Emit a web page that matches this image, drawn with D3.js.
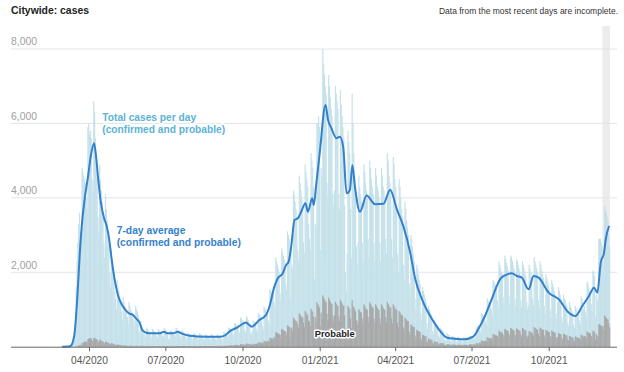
<!DOCTYPE html>
<html>
<head>
<meta charset="utf-8">
<script src="https://cdn.jsdelivr.net/npm/d3@7"></script>
<style>
  body { margin: 0; background: #fff; }
  svg { display: block; font-family: "Liberation Sans", Arial, sans-serif; }
</style>
</head>
<body>
<div id="chart"></div>
<script>
// first day of the daily series, one value per day from here on
const startDate = '2020-02-29';
const incompleteFrom = '2021-12-04';

// total cases per day (confirmed and probable), one row per week starting on a Saturday
const dailyTotal = [
  1, 0, 1, 2, 4, 6, 12,
  15, 12, 30, 60, 100, 140, 250,
  500, 600, 1600, 2300, 2800, 3300, 3600,
  3100, 2900, 4800, 4700, 4600, 4500, 4400,
  4000, 3700, 5900, 6000, 5700, 5800, 5600,
  4500, 4200, 6600, 6300, 5600, 4900, 4500,
  3500, 3100, 4900, 4500, 4200, 3900, 3600,
  2800, 2400, 4100, 3700, 3400, 3000, 2700,
  2000, 1600, 2600, 2200, 1900, 1700, 1500,
  1300, 1000, 1800, 1600, 1500, 1350, 1250,
  950, 700, 1350, 1200, 1100, 1000, 950,
  800, 600, 1200, 1100, 1000, 950, 900,
  750, 550, 700, 1100, 1000, 950, 850,
  450, 350, 700, 600, 520, 480, 430,
  320, 260, 520, 480, 430, 400, 370,
  300, 230, 480, 450, 420, 390, 360,
  290, 230, 470, 440, 410, 380, 350,
  300, 250, 500, 470, 450, 420, 380,
  220, 200, 420, 440, 430, 400, 380,
  320, 270, 520, 500, 460, 420, 390,
  280, 230, 450, 420, 390, 360, 340,
  240, 200, 380, 360, 340, 320, 300,
  230, 190, 370, 350, 330, 310, 290,
  220, 180, 360, 340, 320, 300, 280,
  210, 170, 340, 320, 300, 290, 270,
  200, 170, 340, 320, 300, 290, 270,
  200, 160, 330, 320, 300, 280, 260,
  210, 170, 220, 400, 380, 360, 350,
  290, 250, 520, 500, 480, 460, 440,
  350, 300, 640, 620, 590, 560, 530,
  420, 360, 780, 760, 720, 680, 640,
  450, 380, 820, 780, 720, 650, 600,
  380, 320, 420, 700, 680, 650, 620,
  480, 400, 900, 880, 840, 800, 760,
  560, 480, 1080, 1050, 1000, 950, 900,
  700, 600, 1550, 1500, 1450, 1500, 1450,
  1200, 1050, 2400, 2300, 2200, 2100, 2000,
  1450, 1250, 2650, 2550, 2450, 2350, 2250,
  1700, 1500, 3100, 3000, 2900, 1300, 2600,
  2200, 2100, 4200, 4100, 3900, 3700, 3500,
  2600, 2300, 4600, 4400, 4200, 4000, 3800,
  2800, 2500, 4900, 4700, 4500, 4300, 3300,
  2900, 2600, 5200, 5000, 4800, 4300, 1800,
  3300, 3200, 6000, 6000, 6200, 5900, 2600,
  4800, 4600, 8000, 7600, 7300, 7000, 6800,
  4400, 4000, 7300, 7000, 6700, 6400, 6200,
  4100, 3800, 4200, 7000, 6800, 6600, 6400,
  4100, 3700, 6900, 6500, 6200, 5900, 5600,
  3800, 2000, 1500, 2500, 5800, 5500, 5200,
  3700, 2400, 6800, 6000, 5200, 4600, 4300,
  2700, 2200, 2800, 4600, 4300, 4100, 3900,
  2800, 2300, 4900, 4700, 4400, 4200, 4000,
  2900, 2400, 5000, 4800, 4500, 4300, 4100,
  2800, 2300, 4800, 4600, 4300, 4200, 4000,
  2800, 2300, 4800, 4600, 4300, 4200, 4000,
  2900, 2500, 5200, 5000, 4600, 4400, 4200,
  2900, 2400, 5100, 4900, 4500, 4300, 3800,
  2500, 2000, 4500, 4300, 4000, 3700, 3500,
  2200, 1800, 3900, 3700, 3400, 3200, 3000,
  1700, 1400, 3000, 2900, 2700, 2500, 2300,
  1300, 1000, 2200, 2100, 1950, 1800, 1700,
  900, 700, 1600, 1500, 1400, 1300, 1200,
  620, 480, 1100, 1000, 950, 880, 820,
  420, 320, 720, 680, 640, 600, 560,
  300, 230, 520, 490, 460, 430, 400,
  200, 160, 180, 360, 340, 320, 300,
  160, 130, 290, 280, 260, 250, 230,
  150, 120, 270, 260, 240, 230, 220,
  150, 120, 260, 250, 240, 230, 220,
  170, 140, 300, 290, 280, 270, 260,
  230, 200, 250, 520, 540, 560, 580,
  450, 400, 900, 880, 850, 820, 800,
  700, 600, 1300, 1250, 1200, 1150, 1100,
  1000, 850, 1800, 1750, 1700, 1650, 1600,
  1250, 1050, 2300, 2200, 2100, 2000, 1950,
  1350, 1150, 2450, 2350, 2250, 2150, 2050,
  1350, 1150, 2450, 2400, 2300, 2200, 2100,
  1300, 1100, 2350, 2300, 2200, 2100, 2000,
  1250, 1050, 2300, 2200, 2100, 2000, 1900,
  1200, 1000, 1100, 2200, 2100, 2000, 1900,
  1300, 1100, 2400, 2300, 2200, 2100, 2000,
  1250, 1050, 2300, 2200, 2050, 1950, 1850,
  1100, 900, 1950, 1850, 1750, 1650, 1550,
  1000, 800, 1800, 1700, 1600, 1500, 1400,
  900, 750, 1200, 1600, 1500, 1400, 1300,
  780, 650, 1400, 1300, 1250, 1150, 1100,
  650, 550, 1200, 1100, 1050, 950, 900,
  600, 500, 1100, 1050, 950, 900, 850,
  700, 600, 1350, 1300, 1200, 1000, 1100,
  950, 800, 1750, 1700, 1600, 1500, 1450,
  1150, 950, 2050, 2000, 1900, 800, 1400,
  1300, 1200, 2900, 2900, 2900, 2800, 2700,
  2300, 2000, 3800, 3700, 3600, 3500, 3400,
  3000, 2700
];

// probable cases per day, same days as dailyTotal
const dailyProbable = [
  0, 0, 0, 0, 0, 0, 0,
  0, 0, 0, 0, 0, 1, 1,
  2, 3, 8, 12, 20, 30, 40,
  40, 40, 90, 110, 120, 130, 140,
  130, 120, 200, 220, 220, 230, 220,
  170, 150, 240, 230, 220, 200, 190,
  140, 120, 190, 170, 160, 150, 140,
  100, 90, 140, 130, 120, 110, 100,
  70, 60, 100, 90, 80, 70, 60,
  45, 35, 60, 55, 50, 45, 40,
  30, 25, 40, 35, 35, 30, 30,
  16, 13, 24, 23, 22, 21, 21,
  16, 13, 15, 23, 22, 21, 21,
  15, 12, 22, 21, 20, 19, 19,
  14, 12, 21, 20, 19, 18, 18,
  14, 11, 20, 20, 19, 18, 18,
  13, 11, 20, 19, 18, 18, 17,
  14, 12, 21, 20, 19, 18, 18,
  10, 10, 18, 20, 19, 18, 18,
  14, 12, 22, 21, 20, 19, 18,
  14, 12, 21, 20, 19, 18, 18,
  13, 11, 20, 19, 18, 17, 17,
  13, 11, 20, 19, 18, 17, 17,
  13, 11, 20, 19, 18, 18, 17,
  14, 12, 21, 20, 19, 18, 18,
  14, 12, 22, 21, 20, 19, 19,
  15, 13, 23, 22, 21, 20, 20,
  17, 14, 16, 26, 25, 24, 24,
  24, 20, 36, 35, 33, 32, 32,
  32, 26, 48, 46, 44, 42, 42,
  44, 36, 66, 63, 61, 58, 58,
  56, 46, 84, 81, 77, 74, 74,
  56, 46, 60, 81, 77, 74, 74,
  80, 65, 120, 115, 110, 105, 105,
  104, 85, 156, 150, 143, 137, 137,
  160, 130, 240, 230, 220, 210, 210,
  264, 215, 396, 380, 363, 347, 347,
  320, 260, 480, 460, 440, 420, 420,
  384, 312, 576, 552, 528, 250, 504,
  520, 423, 780, 748, 715, 683, 683,
  600, 488, 900, 863, 825, 788, 788,
  640, 520, 960, 920, 880, 840, 700,
  680, 553, 1020, 978, 935, 800, 450,
  800, 650, 1200, 1150, 1100, 1050, 550,
  920, 748, 1380, 1323, 1265, 1208, 1208,
  880, 715, 1320, 1265, 1210, 1155, 1155,
  840, 683, 840, 1208, 1155, 1103, 1103,
  840, 683, 1260, 1208, 1155, 1103, 1103,
  840, 400, 300, 500, 1100, 1050, 1000,
  760, 500, 1250, 1100, 1050, 1000, 950,
  704, 572, 700, 1012, 968, 924, 924,
  760, 618, 1140, 1093, 1045, 998, 998,
  800, 650, 1200, 1150, 1100, 1050, 1050,
  760, 618, 1140, 1093, 1045, 998, 998,
  760, 618, 1140, 1093, 1045, 998, 998,
  800, 650, 1200, 1150, 1100, 1050, 1050,
  760, 618, 1140, 1093, 1045, 998, 998,
  640, 520, 960, 920, 880, 840, 840,
  520, 423, 780, 748, 715, 683, 683,
  400, 325, 600, 575, 550, 525, 525,
  304, 247, 456, 437, 418, 399, 399,
  216, 176, 324, 311, 297, 284, 284,
  144, 117, 216, 207, 198, 189, 189,
  96, 78, 144, 138, 132, 126, 126,
  68, 55, 102, 98, 94, 89, 89,
  48, 39, 45, 69, 66, 63, 63,
  40, 33, 60, 58, 55, 53, 53,
  36, 29, 54, 52, 50, 47, 47,
  36, 29, 54, 52, 50, 47, 47,
  44, 36, 66, 63, 61, 58, 58,
  64, 52, 60, 92, 88, 84, 84,
  112, 91, 168, 161, 154, 147, 147,
  168, 137, 252, 242, 231, 221, 221,
  232, 189, 348, 334, 319, 305, 305,
  288, 234, 432, 414, 396, 378, 378,
  320, 260, 480, 460, 440, 420, 420,
  336, 273, 504, 483, 462, 441, 441,
  328, 267, 492, 472, 451, 431, 431,
  336, 273, 504, 483, 462, 441, 441,
  296, 241, 300, 426, 407, 389, 389,
  352, 286, 528, 506, 484, 462, 462,
  344, 280, 516, 495, 473, 452, 452,
  304, 247, 456, 437, 418, 399, 399,
  288, 234, 432, 414, 396, 378, 378,
  256, 208, 260, 368, 352, 336, 336,
  232, 189, 348, 334, 319, 305, 305,
  192, 156, 288, 276, 264, 252, 252,
  184, 150, 276, 265, 253, 242, 242,
  216, 176, 324, 311, 297, 250, 284,
  272, 221, 408, 391, 374, 357, 357,
  288, 234, 432, 414, 396, 180, 340,
  300, 280, 600, 600, 580, 560, 540,
  560, 455, 840, 800, 770, 740, 735,
  620, 520
];

// 7-day average at its turning points
const avgDates = [
  '2020-02-29', '2020-03-08', '2020-03-11', '2020-03-13', '2020-03-15', '2020-03-18',
  '2020-03-21', '2020-03-24', '2020-03-27', '2020-03-31', '2020-04-03', '2020-04-07',
  '2020-04-09', '2020-04-12', '2020-04-15', '2020-04-19', '2020-04-22', '2020-04-25',
  '2020-04-28', '2020-05-02', '2020-05-06', '2020-05-11', '2020-05-16', '2020-05-20',
  '2020-05-23', '2020-05-27', '2020-05-31', '2020-06-04', '2020-06-12', '2020-06-24',
  '2020-06-29', '2020-07-04', '2020-07-10', '2020-07-16', '2020-07-20', '2020-07-30',
  '2020-08-19', '2020-09-04', '2020-09-11', '2020-09-15', '2020-09-25', '2020-09-29',
  '2020-10-05', '2020-10-12', '2020-10-21', '2020-10-29', '2020-11-02', '2020-11-08',
  '2020-11-12', '2020-11-18', '2020-11-22', '2020-11-25', '2020-11-28', '2020-12-02',
  '2020-12-06', '2020-12-10', '2020-12-15', '2020-12-18', '2020-12-23', '2020-12-25',
  '2020-12-28', '2021-01-01', '2021-01-08', '2021-01-11', '2021-01-15', '2021-01-21',
  '2021-01-25', '2021-01-29', '2021-02-02', '2021-02-06', '2021-02-09', '2021-02-12',
  '2021-02-18', '2021-02-26', '2021-03-08', '2021-03-18', '2021-03-26', '2021-04-03',
  '2021-04-11', '2021-04-19', '2021-04-25', '2021-05-03', '2021-05-15', '2021-05-23',
  '2021-06-02', '2021-06-11', '2021-06-23', '2021-07-03', '2021-07-09', '2021-07-17',
  '2021-07-25', '2021-08-04', '2021-08-10', '2021-08-18', '2021-08-24', '2021-08-30',
  '2021-09-07', '2021-09-13', '2021-09-19', '2021-10-01', '2021-10-13', '2021-10-25',
  '2021-11-02', '2021-11-10', '2021-11-18', '2021-11-24', '2021-11-28', '2021-12-02',
  '2021-12-06', '2021-12-08', '2021-12-12'
];
const avgValues = [
  0, 5, 40, 150, 400, 1300,
  2500, 3400, 4000, 4600, 5100, 5470,
  5200, 4500, 3900, 3450, 3250, 2900,
  2350, 1750, 1350, 1100, 950, 880,
  860, 760, 660, 430, 360, 360,
  400, 360, 360, 400, 360, 296,
  269, 265, 314, 403, 521, 583,
  650, 537, 717, 852, 1075, 1613,
  1838, 1973, 2196, 2285, 2688, 3406,
  3451, 3629, 3855, 3629, 3989, 3809,
  4392, 5198, 6497, 6094, 5871, 5602,
  5645, 5376, 4123, 4212, 4884, 4301,
  3629, 4060, 3830, 3840, 4220, 3690,
  3220, 2520, 1811, 1274, 737, 468,
  242, 215, 199, 269, 468, 825,
  1274, 1811, 1919, 1973, 1900, 1855,
  1543, 1900, 1855, 1452, 1274, 914,
  825, 1094, 1363, 1586, 1452, 2258,
  2527, 2887, 3244
];

const yTicks = [2000, 4000, 6000, 8000];
const xTicks = ['2020-04-01', '2020-07-01', '2020-10-01', '2021-01-01', '2021-04-01', '2021-07-01', '2021-10-01'];

const width = 624;
const height = 372;
const left = 11;
const right = 617;

const parse = d3.utcParse('%Y-%m-%d');
const start = parse(startDate);
const dayAt = i => d3.utcDay.offset(start, i);

const x = d3
  .scaleUtc()
  .domain([parse('2020-04-01'), parse('2021-10-01')])
  .range([89, 548.7]);
const y = d3.scaleLinear().domain([0, 8000]).range([346.7, 49]);

const svg = d3
  .select('#chart')
  .append('svg')
  .attr('width', width)
  .attr('height', height);

// shaded band over the most recent, incomplete days
const lastDay = dayAt(dailyTotal.length);
svg
  .append('rect')
  .attr('x', x(parse(incompleteFrom)))
  .attr('y', 26)
  .attr('width', x(lastDay) - x(parse(incompleteFrom)))
  .attr('height', y(0) - 26)
  .attr('fill', '#ececec');

// gridlines + y labels
const grid = svg.append('g');
grid
  .selectAll('line')
  .data(yTicks)
  .join('line')
  .attr('x1', left)
  .attr('x2', right)
  .attr('y1', d => y(d))
  .attr('y2', d => y(d))
  .attr('stroke', '#e4e4e4')
  .attr('stroke-width', 1);
grid
  .selectAll('text')
  .data(yTicks)
  .join('text')
  .attr('x', left)
  .attr('y', d => y(d) - 3.6)
  .attr('fill', '#a0a0a0')
  .attr('font-size', 10.4)
  .text(d3.format(','));

// daily bars, widened a little so neighbours don't leave hairline seams
const barW = i => x(dayAt(i + 1)) - x(dayAt(i)) + 0.35;
svg
  .append('g')
  .selectAll('rect')
  .data(dailyTotal)
  .join('rect')
  .attr('x', (d, i) => x(dayAt(i)))
  .attr('y', d => y(d))
  .attr('width', (d, i) => barW(i))
  .attr('height', d => y(0) - y(d))
  .attr('fill', '#c5e1ea');

svg
  .append('g')
  .selectAll('rect')
  .data(dailyProbable)
  .join('rect')
  .attr('x', (d, i) => x(dayAt(i)))
  .attr('y', d => y(d))
  .attr('width', (d, i) => barW(i))
  .attr('height', d => y(0) - y(d))
  .attr('fill', '#a9a9a9');

// 7-day average
const avgPoints = avgDates.map((d, i) => ({ date: parse(d), value: avgValues[i] }));
svg
  .append('path')
  .datum(avgPoints)
  .attr('fill', 'none')
  .attr('stroke', '#3381cb')
  .attr('stroke-width', 2)
  .attr('stroke-linejoin', 'round')
  .attr(
    'd',
    d3
      .line()
      .x(d => x(d.date))
      .y(d => y(d.value))
      .curve(d3.curveMonotoneX)
  );

// x axis
svg
  .append('line')
  .attr('x1', left)
  .attr('x2', right)
  .attr('y1', y(0) + 0.5)
  .attr('y2', y(0) + 0.5)
  .attr('stroke', '#666')
  .attr('stroke-width', 1);

const xAxis = svg
  .append('g')
  .attr('transform', `translate(0,${y(0) + 0.5})`)
  .call(
    d3
      .axisBottom(x)
      .tickValues(xTicks.map(parse))
      .tickFormat(d3.utcFormat('%m/%Y'))
      .tickSize(4)
      .tickPadding(6)
  );
xAxis.select('.domain').remove();
xAxis.selectAll('line').attr('stroke', '#666');
xAxis
  .selectAll('text')
  .attr('fill', '#555')
  .attr('font-size', 10.2)
  .attr('font-family', '"Liberation Sans", Arial, sans-serif');

// titles
svg
  .append('text')
  .attr('x', left)
  .attr('y', 14)
  .attr('font-size', 10.4)
  .attr('font-weight', 'bold')
  .attr('fill', '#222')
  .text('Citywide: cases');

svg
  .append('text')
  .attr('x', 618)
  .attr('y', 14)
  .attr('text-anchor', 'end')
  .attr('font-size', 8.5)
  .attr('fill', '#333')
  .text('Data from the most recent days are incomplete.');

// annotations
function note(lines, px, py, color, size) {
  const t = svg
    .append('text')
    .attr('x', px)
    .attr('y', py)
    .attr('font-size', size)
    .attr('font-weight', 'bold')
    .attr('fill', color)
    .attr('stroke', '#fff')
    .attr('stroke-width', 3)
    .attr('stroke-linejoin', 'round')
    .attr('paint-order', 'stroke');
  lines.forEach((s, i) => {
    t.append('tspan').attr('x', px).attr('dy', i ? 12 : 0).text(s);
  });
  return t;
}

note(['Total cases per day', '(confirmed and probable)'], 102.3, 121, '#5cb3d5', 10.2);
note(['7-day average', '(confirmed and probable)'], 116.7, 234, '#3682cb', 10.3);
note(['Probable'], 334.7, 336.5, '#222', 9.3).attr('text-anchor', 'middle');
</script>
</body>
</html>
